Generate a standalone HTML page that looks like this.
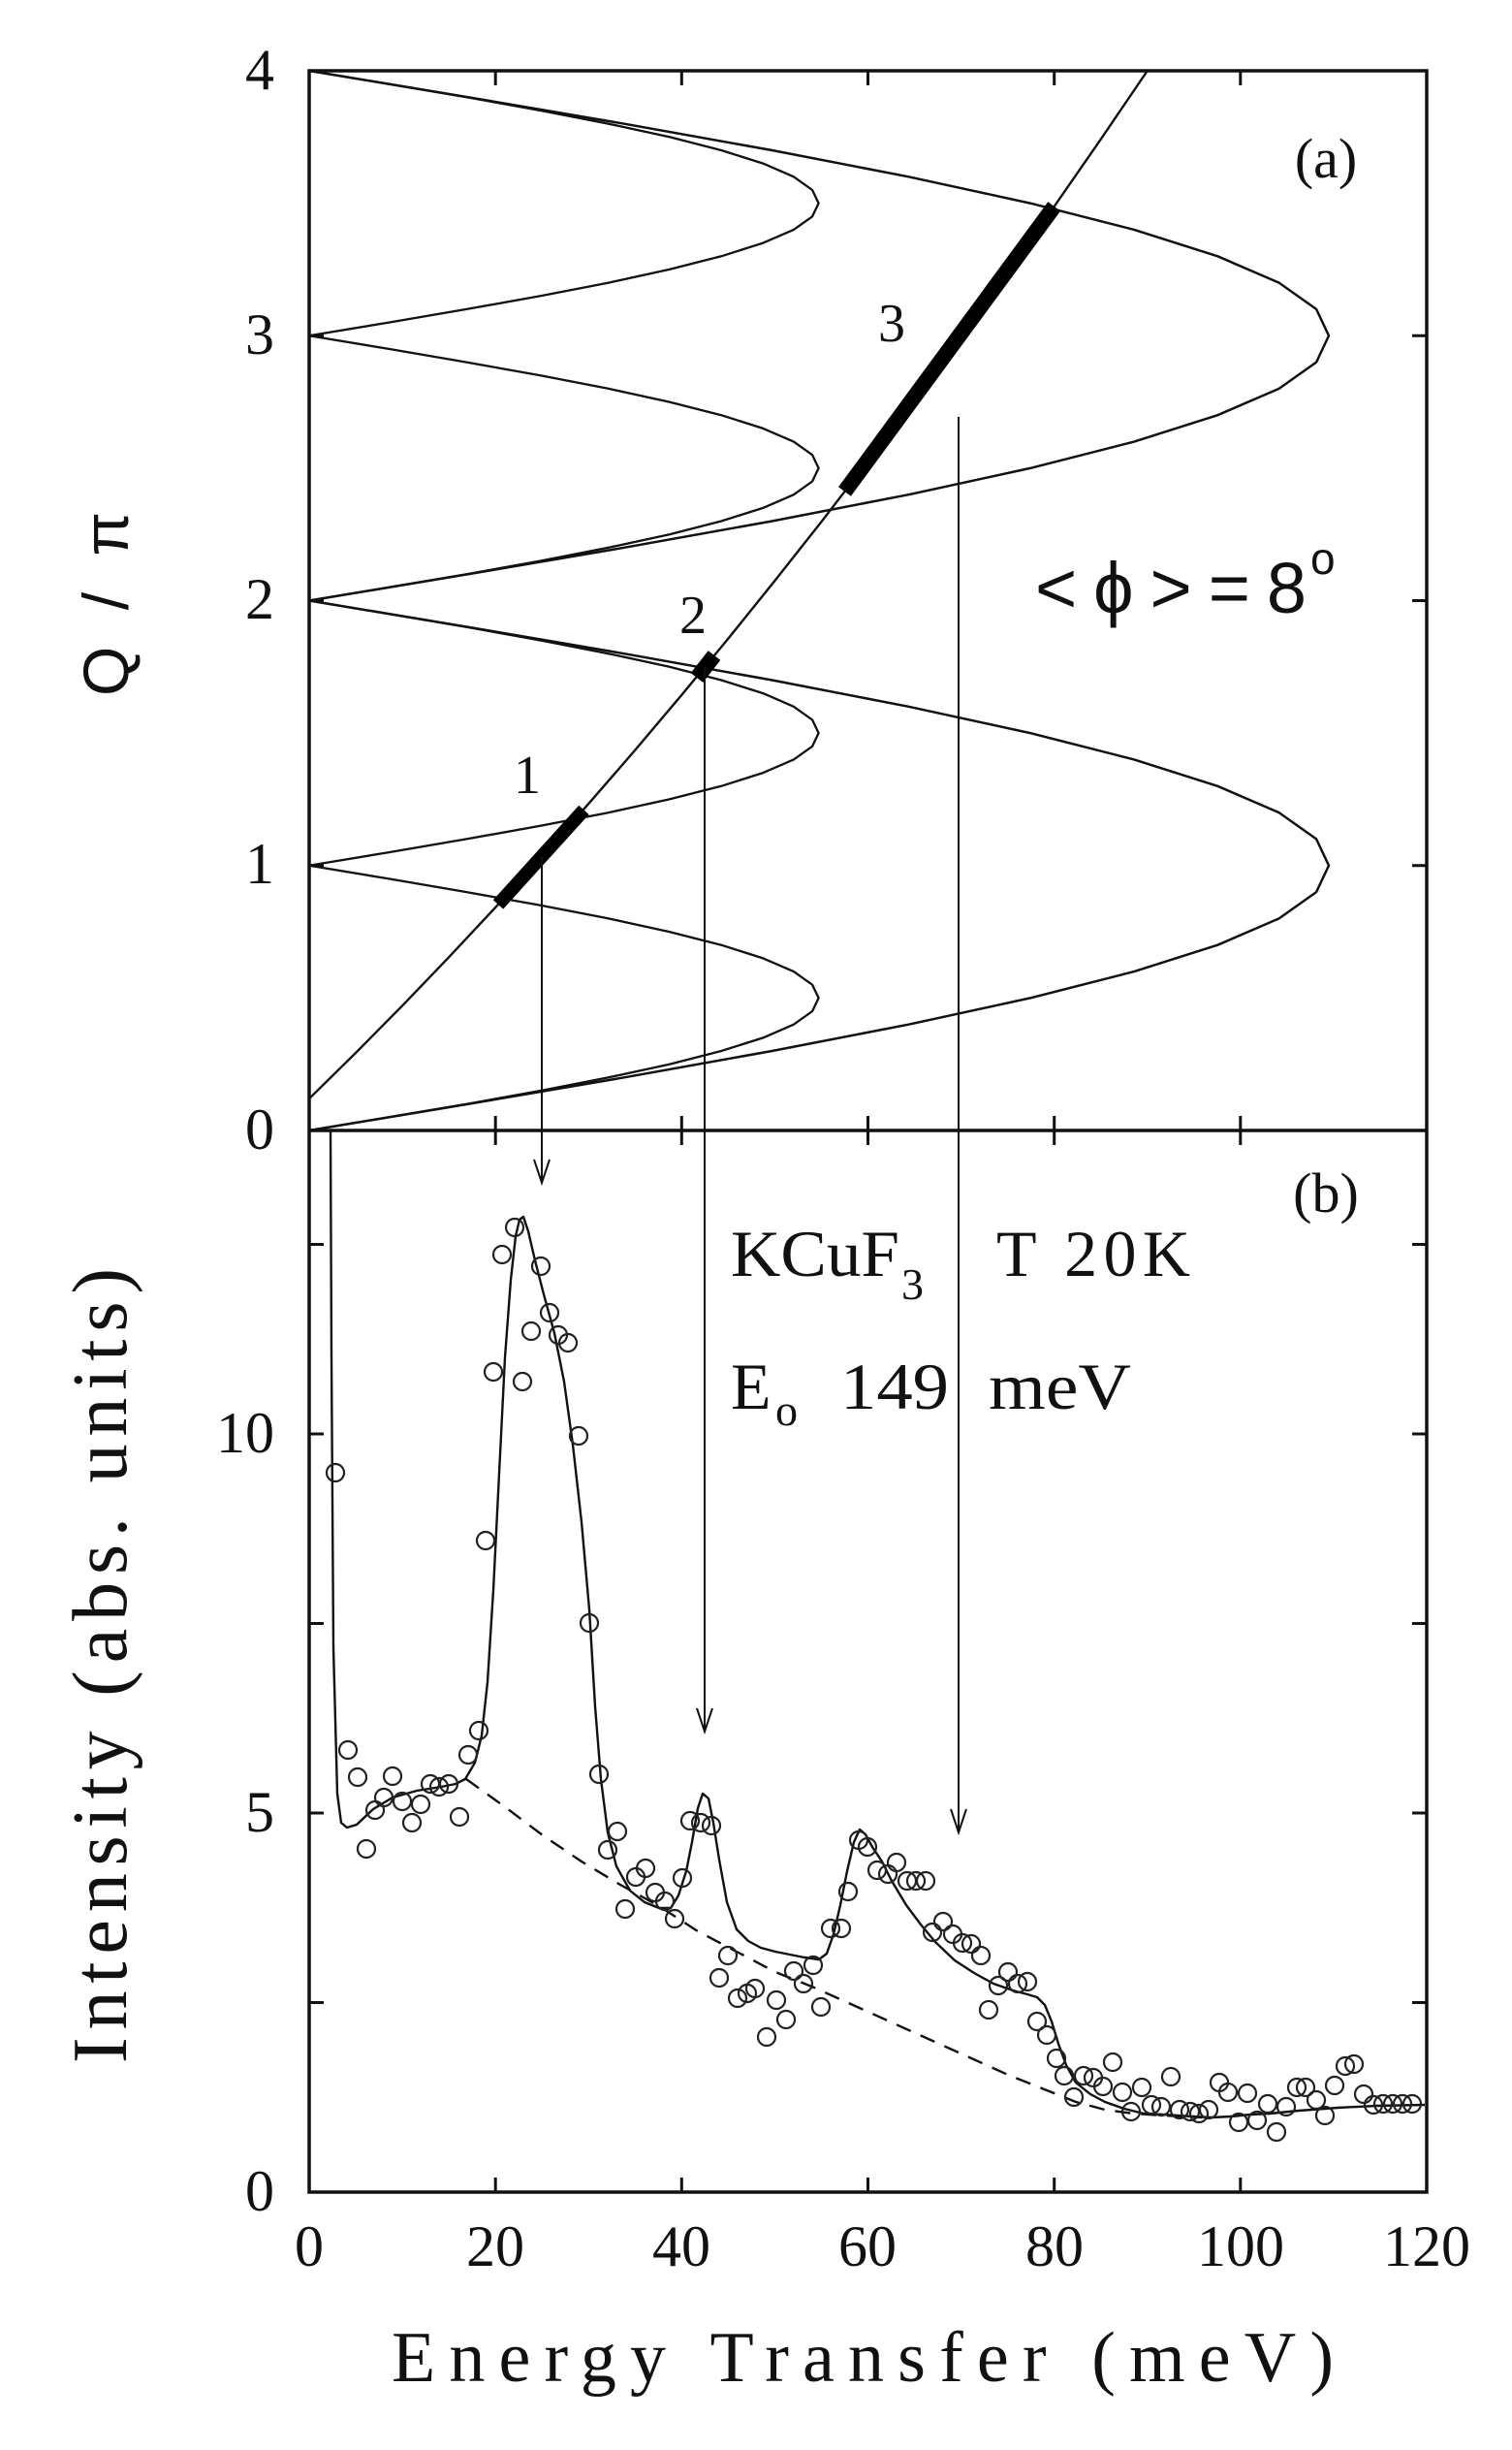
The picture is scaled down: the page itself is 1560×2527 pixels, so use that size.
<!DOCTYPE html>
<html><head><meta charset="utf-8">
<style>
html,body{margin:0;padding:0;background:#fff;}
svg{display:block;}
text{fill:#111;}
</style></head>
<body>
<svg xmlns="http://www.w3.org/2000/svg" width="1560" height="2527" viewBox="0 0 1560 2527">
<rect x="0" y="0" width="1560" height="2527" fill="#fff"/>
<g fill="none" stroke="#111" stroke-width="3.5">
<rect x="319" y="73" width="1153" height="2188"/>
<line x1="319" y1="1166" x2="1472" y2="1166"/>
</g>
<g stroke="#111" stroke-width="3">
<path d="M511.2 73V88M511.2 1166V1151M511.2 1166V1181M511.2 2261V2246M703.3 73V88M703.3 1166V1151M703.3 1166V1181M703.3 2261V2246M895.5 73V88M895.5 1166V1151M895.5 1166V1181M895.5 2261V2246M1087.7 73V88M1087.7 1166V1151M1087.7 1166V1181M1087.7 2261V2246M1279.8 73V88M1279.8 1166V1151M1279.8 1166V1181M1279.8 2261V2246M319 892.75H334M1472 892.75H1457M319 619.5H334M1472 619.5H1457M319 346.25H334M1472 346.25H1457M319 2065.5H334M1472 2065.5H1457M319 1870H334M1472 1870H1457M319 1674.5H334M1472 1674.5H1457M319 1479H334M1472 1479H1457M319 1283.5H334M1472 1283.5H1457"/>
</g>
<g fill="none" stroke="#111" stroke-width="2.5" stroke-linejoin="round">
<path d="M319 1166 L483.5 1138.7 L644.1 1111.3 L796.6 1084 L937.4 1056.7 L1062.9 1029.4 L1170.1 1002.1 L1256.3 974.7 L1319.6 947.4 L1358.1 920.1 L1371 892.75 L1358.1 865.4 L1319.6 838.1 L1256.3 810.8 L1170.1 783.4 L1062.9 756.1 L937.4 728.8 L796.6 701.5 L644.1 674.2 L483.5 646.8 L319 619.5"/>
<path d="M319 619.5 L483.5 592.2 L644.1 564.8 L796.6 537.5 L937.4 510.2 L1062.9 482.9 L1170.1 455.6 L1256.3 428.2 L1319.6 400.9 L1358.1 373.6 L1371 346.25 L1358.1 318.9 L1319.6 291.6 L1256.3 264.3 L1170.1 236.9 L1062.9 209.6 L937.4 182.3 L796.6 155 L644.1 127.7 L483.5 100.3 L319 73"/>
</g>
<g fill="none" stroke="#111" stroke-width="2.3" stroke-linejoin="round">
<path d="M319 1166 L401.2 1152.3 L481.4 1138.7 L557.6 1125 L628 1111.3 L690.7 1097.7 L744.2 1084 L787.3 1070.4 L818.9 1056.7 L838.1 1043 L844.6 1029.4 L838.1 1015.7 L818.9 1002.1 L787.3 988.4 L744.2 974.7 L690.7 961.1 L628 947.4 L557.6 933.8 L481.4 920.1 L401.2 906.4 L319 892.75 L401.2 879.1 L481.4 865.4 L557.6 851.8 L628 838.1 L690.7 824.4 L744.2 810.8 L787.3 797.1 L818.9 783.4 L838.1 769.8 L844.6 756.1 L838.1 742.5 L818.9 728.8 L787.3 715.1 L744.2 701.5 L690.7 687.8 L628 674.2 L557.6 660.5 L481.4 646.8 L401.2 633.2 L319 619.5 L401.2 605.8 L481.4 592.2 L557.6 578.5 L628 564.8 L690.7 551.2 L744.2 537.5 L787.3 523.9 L818.9 510.2 L838.1 496.5 L844.6 482.9 L838.1 469.2 L818.9 455.6 L787.3 441.9 L744.2 428.2 L690.7 414.6 L628 400.9 L557.6 387.3 L481.4 373.6 L401.2 359.9 L319 346.25 L401.2 332.6 L481.4 318.9 L557.6 305.3 L628 291.6 L690.7 277.9 L744.2 264.3 L787.3 250.6 L818.9 236.9 L838.1 223.3 L844.6 209.6 L838.1 196 L818.9 182.3 L787.3 168.6 L744.2 155 L690.7 141.3 L628 127.7 L557.6 114 L481.4 100.3 L401.2 86.7 L319 73"/>
</g>
<g fill="none" stroke="#111" stroke-width="2.4" stroke-linejoin="round">
<path d="M319 1133.2 L367 1086 L415.1 1037.3 L463.1 987.3 L511.2 935.9 L559.2 883.2 L607.2 829.1 L655.3 773.6 L703.3 716.8 L751.4 658.6 L799.4 599 L847.5 538.1 L895.5 475.8 L943.5 412.1 L991.6 347.1 L1039.6 280.7 L1087.7 212.9 L1135.7 143.7 L1183.8 73"/>
</g>
<g stroke="#000" stroke-linecap="butt" fill="none">
<path d="M514 932.9 L602.4 835.4" stroke-width="14"/>
<path d="M719 699 L737 676" stroke-width="16"/>
<path d="M871.5 507 L1087.7 212.9" stroke-width="16"/>
</g>
<g stroke="#111" stroke-width="2" fill="none">
<line x1="559" y1="884" x2="559" y2="1218"/>
<path d="M551 1196 L559 1220 L567 1196"/>
<line x1="727" y1="688" x2="727" y2="1784"/>
<path d="M719 1762 L727 1786 L735 1762"/>
<line x1="989" y1="430" x2="989" y2="1888"/>
<path d="M981 1866 L989 1890 L997 1866"/>
</g>
<g font-family="'Liberation Serif',serif">
<text x="283" y="92" font-size="60" text-anchor="end">4</text>
<text x="283" y="365" font-size="60" text-anchor="end">3</text>
<text x="283" y="638" font-size="60" text-anchor="end">2</text>
<text x="283" y="911" font-size="60" text-anchor="end">1</text>
<text x="283" y="1185" font-size="60" text-anchor="end">0</text>
<text x="283" y="1498" font-size="60" text-anchor="end">10</text>
<text x="283" y="1889" font-size="60" text-anchor="end">5</text>
<text x="283" y="2280" font-size="60" text-anchor="end">0</text>
<text x="319" y="2337" font-size="60" text-anchor="middle">0</text>
<text x="511" y="2337" font-size="60" text-anchor="middle">20</text>
<text x="703" y="2337" font-size="60" text-anchor="middle">40</text>
<text x="895" y="2337" font-size="60" text-anchor="middle">60</text>
<text x="1088" y="2337" font-size="60" text-anchor="middle">80</text>
<text x="1280" y="2337" font-size="60" text-anchor="middle">100</text>
<text x="1472" y="2337" font-size="60" text-anchor="middle">120</text>
<text x="404" y="2456" font-size="74" textLength="972" lengthAdjust="spacing">Energy Transfer (meV)</text>
<text transform="translate(130,2128) rotate(-90)" font-size="80" textLength="820" lengthAdjust="spacing">Intensity (abs. units)</text>
<text x="1368" y="183" font-size="58" text-anchor="middle">(a)</text>
<text x="1368" y="1250" font-size="58" text-anchor="middle">(b)</text>
<text x="544" y="818" font-size="56" text-anchor="middle">1</text>
<text x="715" y="653" font-size="56" text-anchor="middle">2</text>
<text x="920" y="352" font-size="56" text-anchor="middle">3</text>
<text x="754" y="1316" font-size="68" textLength="174" lengthAdjust="spacingAndGlyphs">KCuF</text>
<text x="930" y="1340" font-size="46">3</text>
<text x="1028" y="1316" font-size="68" textLength="200" lengthAdjust="spacing">T 20K</text>
<text x="754" y="1453" font-size="68">E</text>
<text x="800" y="1470" font-size="46">o</text>
<text x="867" y="1453" font-size="68" textLength="112" lengthAdjust="spacingAndGlyphs">149</text>
<text x="1020" y="1453" font-size="68" textLength="147" lengthAdjust="spacingAndGlyphs">meV</text>
</g>
<g font-family="'Liberation Sans',sans-serif">
<text transform="translate(132,718) rotate(-90)" font-size="66" textLength="190" lengthAdjust="spacing">Q/π</text>
<text x="1068" y="632" font-size="74" textLength="280" lengthAdjust="spacing">&lt;ϕ&gt;=8</text>
<text x="1352" y="592" font-size="46">o</text>
</g>
<g fill="none" stroke="#111" stroke-width="2.4" stroke-linejoin="round">
<path d="M341 1166 L342 1400 L344 1700 L348 1850 L352 1880 L358 1885 L368 1882 L385 1866 L405 1854 L430 1847 L455 1843 L470 1840 L480 1835 L490 1818 L497 1790 L503 1735 L509 1640 L515 1520 L521 1400 L527 1320 L532 1275 L536 1258 L540 1255 L545 1270 L552 1300 L561 1335 L572 1375 L582 1425 L591 1490 L600 1570 L608 1660 L614 1760 L620 1835 L627 1890 L636 1925 L650 1950 L665 1962 L680 1968 L692 1968 L700 1955 L708 1930 L714 1900 L720 1865 L725 1850 L731 1855 L736 1880 L742 1918 L750 1962 L760 1990 L772 2002 L785 2009 L800 2013 L815 2016 L830 2019 L845 2021 L853 2015 L860 1995 L867 1965 L874 1930 L881 1900 L887 1887 L893 1892 L900 1905 L910 1920 L920 1940 L935 1965 L950 1985 L965 2003 L985 2022 L1005 2035 L1025 2046 L1045 2053 L1060 2057 L1070 2060 L1078 2068 L1085 2085 L1092 2108 L1100 2130 L1110 2148 L1125 2160 L1140 2168 L1160 2175 L1180 2180 L1200 2181 L1230 2183 L1250 2184 L1270 2183 L1290 2181 L1310 2180 L1340 2177 L1380 2174 L1420 2172 L1470 2171"/>
<path stroke-dasharray="16,11" d="M481 1835 L520 1863 L560 1893 L600 1920 L640 1944 L680 1966 L720 1992 L760 2013 L800 2034 L840 2050 L880 2068 L920 2086 L960 2104 L1000 2122 L1040 2140 L1080 2156 L1110 2168 L1140 2176 L1170 2180 L1200 2182 L1240 2184"/>
</g>
<g fill="none" stroke="#222" stroke-width="2.2">
<circle cx="346" cy="1519" r="9"/><circle cx="359" cy="1805" r="9"/><circle cx="369" cy="1833" r="9"/><circle cx="378" cy="1907" r="9"/><circle cx="387" cy="1867" r="9"/><circle cx="396" cy="1854" r="9"/><circle cx="405" cy="1832" r="9"/><circle cx="415" cy="1858" r="9"/><circle cx="425" cy="1880" r="9"/><circle cx="434" cy="1861" r="9"/><circle cx="444" cy="1840" r="9"/><circle cx="453" cy="1843" r="9"/><circle cx="463" cy="1840" r="9"/><circle cx="474" cy="1874" r="9"/><circle cx="483" cy="1810" r="9"/><circle cx="494" cy="1785" r="9"/><circle cx="501" cy="1589" r="9"/><circle cx="509" cy="1415" r="9"/><circle cx="518" cy="1294" r="9"/><circle cx="531" cy="1266" r="9"/><circle cx="539" cy="1425" r="9"/><circle cx="548" cy="1373" r="9"/><circle cx="558" cy="1306" r="9"/><circle cx="567" cy="1354" r="9"/><circle cx="576" cy="1377" r="9"/><circle cx="586" cy="1385" r="9"/><circle cx="597" cy="1481" r="9"/><circle cx="608" cy="1674" r="9"/><circle cx="618" cy="1830" r="9"/><circle cx="627" cy="1908" r="9"/><circle cx="637" cy="1889" r="9"/><circle cx="645" cy="1969" r="9"/><circle cx="656" cy="1936" r="9"/><circle cx="666" cy="1927" r="9"/><circle cx="676" cy="1952" r="9"/><circle cx="686" cy="1961" r="9"/><circle cx="696" cy="1979" r="9"/><circle cx="704" cy="1937" r="9"/><circle cx="712" cy="1878" r="9"/><circle cx="723" cy="1880" r="9"/><circle cx="734" cy="1883" r="9"/><circle cx="742" cy="2040" r="9"/><circle cx="751" cy="2017" r="9"/><circle cx="761" cy="2061" r="9"/><circle cx="771" cy="2056" r="9"/><circle cx="779" cy="2051" r="9"/><circle cx="791" cy="2101" r="9"/><circle cx="801" cy="2063" r="9"/><circle cx="811" cy="2083" r="9"/><circle cx="819" cy="2033" r="9"/><circle cx="829" cy="2046" r="9"/><circle cx="839" cy="2027" r="9"/><circle cx="847" cy="2070" r="9"/><circle cx="857" cy="1989" r="9"/><circle cx="868" cy="1989" r="9"/><circle cx="875" cy="1951" r="9"/><circle cx="886" cy="1898" r="9"/><circle cx="895" cy="1905" r="9"/><circle cx="905" cy="1929" r="9"/><circle cx="916" cy="1933" r="9"/><circle cx="925" cy="1921" r="9"/><circle cx="936" cy="1940" r="9"/><circle cx="945" cy="1940" r="9"/><circle cx="955" cy="1940" r="9"/><circle cx="962" cy="1993" r="9"/><circle cx="973" cy="1982" r="9"/><circle cx="983" cy="1995" r="9"/><circle cx="993" cy="2004" r="9"/><circle cx="1002" cy="2005" r="9"/><circle cx="1012" cy="2017" r="9"/><circle cx="1020" cy="2073" r="9"/><circle cx="1030" cy="2048" r="9"/><circle cx="1040" cy="2034" r="9"/><circle cx="1050" cy="2046" r="9"/><circle cx="1060" cy="2044" r="9"/><circle cx="1070" cy="2085" r="9"/><circle cx="1080" cy="2099" r="9"/><circle cx="1090" cy="2123" r="9"/><circle cx="1098" cy="2141" r="9"/><circle cx="1108" cy="2163" r="9"/><circle cx="1118" cy="2141" r="9"/><circle cx="1128" cy="2143" r="9"/><circle cx="1138" cy="2152" r="9"/><circle cx="1148" cy="2127" r="9"/><circle cx="1158" cy="2158" r="9"/><circle cx="1167" cy="2178" r="9"/><circle cx="1178" cy="2153" r="9"/><circle cx="1188" cy="2171" r="9"/><circle cx="1198" cy="2173" r="9"/><circle cx="1208" cy="2142" r="9"/><circle cx="1217" cy="2176" r="9"/><circle cx="1228" cy="2178" r="9"/><circle cx="1237" cy="2180" r="9"/><circle cx="1247" cy="2176" r="9"/><circle cx="1258" cy="2148" r="9"/><circle cx="1267" cy="2158" r="9"/><circle cx="1278" cy="2189" r="9"/><circle cx="1287" cy="2159" r="9"/><circle cx="1297" cy="2187" r="9"/><circle cx="1308" cy="2170" r="9"/><circle cx="1317" cy="2199" r="9"/><circle cx="1327" cy="2173" r="9"/><circle cx="1338" cy="2153" r="9"/><circle cx="1347" cy="2153" r="9"/><circle cx="1358" cy="2166" r="9"/><circle cx="1367" cy="2182" r="9"/><circle cx="1377" cy="2151" r="9"/><circle cx="1388" cy="2131" r="9"/><circle cx="1397" cy="2129" r="9"/><circle cx="1407" cy="2160" r="9"/><circle cx="1417" cy="2171" r="9"/><circle cx="1427" cy="2170" r="9"/><circle cx="1437" cy="2170" r="9"/><circle cx="1447" cy="2170" r="9"/><circle cx="1457" cy="2170" r="9"/>
</g>
</svg>
</body></html>
